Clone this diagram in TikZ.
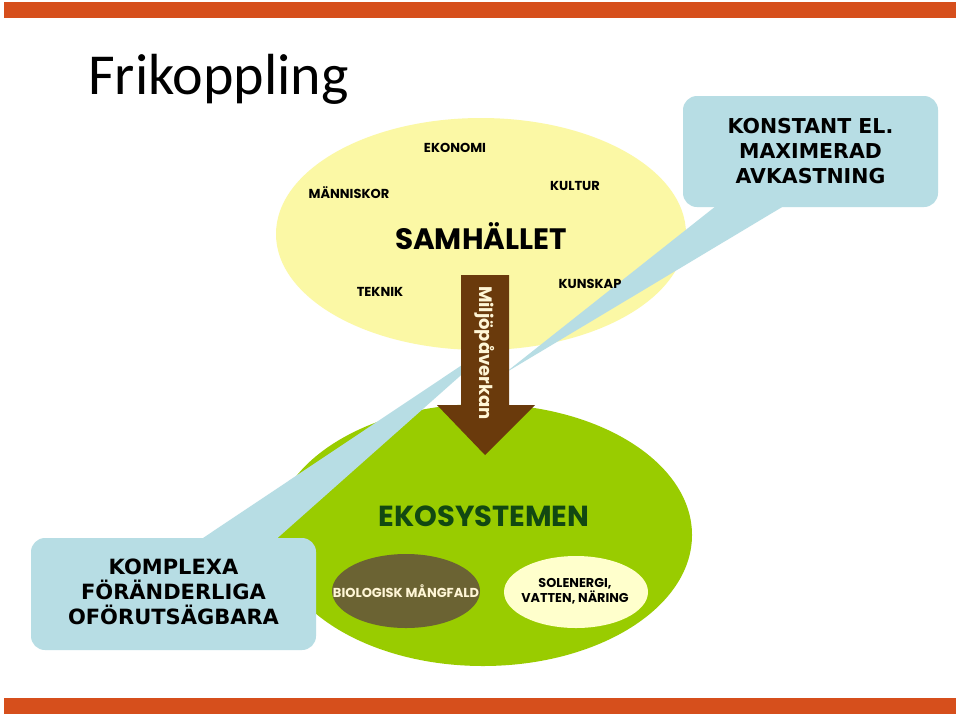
\documentclass[tikz,border=0pt]{standalone}
\usepackage{fontspec}
\setmainfont{Carlito}
\newfontfamily\gothic{Poppins}
\newfontfamily\verd{DejaVu Sans}
\usetikzlibrary{shapes.geometric}
\definecolor{barcol}{RGB}{214,79,28}
\definecolor{samcol}{RGB}{251,248,165}
\definecolor{ecocol}{RGB}{153,204,0}
\definecolor{arrcol}{RGB}{106,58,12}
\definecolor{callcol}{RGB}{183,221,228}
\definecolor{olivecol}{RGB}{107,99,51}
\definecolor{creamcol}{RGB}{255,255,204}
\definecolor{ekotext}{RGB}{18,72,18}
\definecolor{lighttext}{RGB}{255,246,214}
\begin{document}
\begin{tikzpicture}[x=1pt,y=-1pt,
  blob/.style={ellipse, inner sep=0pt, draw=none},
  callbox/.style={rectangle, rounded corners=14pt, fill=callcol, inner sep=0pt, align=center,
    font=\verd\bfseries\fontsize{20.5}{25}\selectfont},
  tailfill/.style={fill=callcol},
  small/.style={font=\gothic\bfseries\fontsize{13}{14}\selectfont, inner sep=0pt},
  bar/.style={rectangle, fill=barcol, inner sep=0pt, minimum width=952pt, minimum height=16pt}
]
\useasboundingbox (0,0) rectangle (960,716);
\fill[white] (0,0) rectangle (960,716);
\node[bar] (topbar) at (480,10) {};
\node[bar] (botbar) at (480,706) {};
\node[anchor=base west, inner sep=0pt, font=\fontsize{58}{60}\selectfont] (title) at (88,94) {Frikoppling};

% ellipses
\node[blob, fill=samcol, minimum width=410pt, minimum height=232pt] (sam) at (481,234) {};
\node[blob, fill=ecocol, minimum width=418pt, minimum height=262pt] (eco) at (483,535) {};

% top right callout
\coordinate (kapex) at (505,373);
\node[callbox, minimum width=255pt, minimum height=111pt] (kbox) at (810.5,151.5) {KONSTANT EL.\\MAXIMERAD\\AVKASTNING};
\fill[tailfill] ([shift={(-91,-4)}]kbox.south) -- ([shift={(-22,-4)}]kbox.south) -- (kapex) -- cycle;

% bottom left callout
\coordinate (fapex) at (504,337);
\fill[tailfill] (197,542) -- (273,542) -- (fapex) -- cycle;
\node[callbox, minimum width=285pt, minimum height=112pt] (fbox) at (173.5,594) {};
\node[callbox, fill=none, font=\verd\bfseries\fontsize{21}{25}\selectfont] (ftext) at (173.5,591.5) {KOMPLEXA\\FÖRÄNDERLIGA\\OFÖRUTSÄGBARA};

% arrow
\fill[arrcol] (461,275) coordinate (arrtop) -- (509,275) -- (509,405) -- (535,405) -- (485,455) coordinate (arrtip) -- (437,405) -- (461,405) -- cycle;
\node[rotate=-90, inner sep=0pt, text=lighttext, font=\gothic\bfseries\fontsize{18}{20}\selectfont] (miljo) at (485,353) {Miljöpåverkan};

% inner ellipses
\node[blob, fill=olivecol, minimum width=148pt, minimum height=74pt] (bio) at (406,591) {};
\node[small, text=lighttext, font=\gothic\bfseries\fontsize{13}{14}\selectfont] (biotext) at (bio) {BIOLOGISK MÅNGFALD};
\node[blob, fill=creamcol, minimum width=144pt, minimum height=72pt] (sol) at (576,592) {};
\node[small, align=center, font=\gothic\bfseries\fontsize{12.8}{15}\selectfont] (soltext) at (575,591) {SOLENERGI,\\VATTEN, NÄRING};

% labels
\node[small] (ekonomi) at (455,148) {EKONOMI};
\node[small] (manniskor) at (349,193) {MÄNNISKOR};
\node[small] (kultur) at (575,186) {KULTUR};
\node[small] (teknik) at (380,292) {TEKNIK};
\node[small] (kunskap) at (590,284) {KUNSKAP};
\node[inner sep=0pt, font=\gothic\bfseries\fontsize{29.5}{32}\selectfont] (samtext) at (481,236) {SAMHÄLLET};
\node[inner sep=0pt, text=ekotext, font=\gothic\bfseries\fontsize{29}{32}\selectfont] (ekotextnode) at (484,516) {EKOSYSTEMEN};
\end{tikzpicture}
\end{document}
